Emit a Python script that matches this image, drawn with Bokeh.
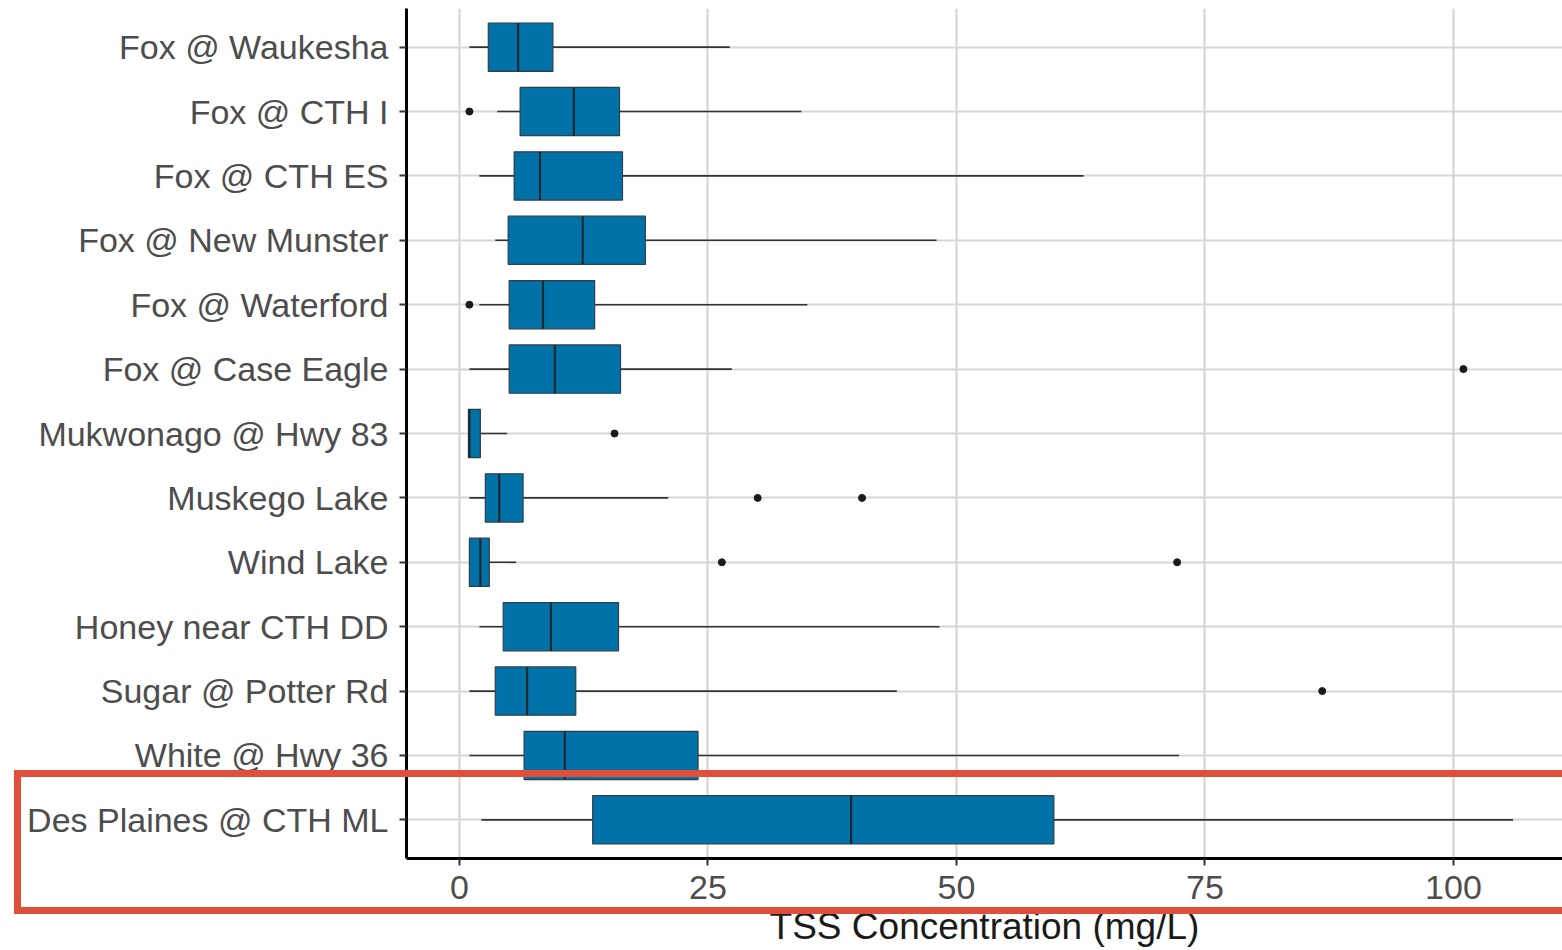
from bokeh.plotting import figure
from bokeh.models import Range1d, FactorRange, FixedTicker, Div
from bokeh.layouts import column
from bokeh.embed import file_html
from bokeh.resources import INLINE

# ---- data ----
sites = ["Fox @ Waukesha", "Fox @ CTH I", "Fox @ CTH ES", "Fox @ New Munster",
         "Fox @ Waterford", "Fox @ Case Eagle", "Mukwonago @ Hwy 83", "Muskego Lake",
         "Wind Lake", "Honey near CTH DD", "Sugar @ Potter Rd", "White @ Hwy 36",
         "Des Plaines @ CTH ML"]
lower_whisker = [1.0, 3.8, 2.0, 3.6, 2.0, 1.0, 0.9, 1.0, 1.0, 2.0, 1.0, 1.0, 2.2]
q1 = [2.9, 6.1, 5.5, 4.9, 5.0, 5.0, 0.9, 2.6, 1.0, 4.4, 3.6, 6.5, 13.4]
median = [5.9, 11.5, 8.1, 12.4, 8.4, 9.6, 1.0, 4.0, 2.1, 9.2, 6.8, 10.6, 39.4]
q3 = [9.4, 16.1, 16.4, 18.7, 13.6, 16.2, 2.1, 6.4, 3.0, 16.0, 11.7, 24.0, 59.8]
upper_whisker = [27.2, 34.4, 62.8, 48.0, 35.0, 27.4, 4.8, 21.0, 5.7, 48.3, 44.0, 72.4, 106.0]
outlier_sites = ["Fox @ CTH I", "Fox @ Waterford", "Fox @ Case Eagle", "Mukwonago @ Hwy 83",
                 "Muskego Lake", "Muskego Lake", "Wind Lake", "Wind Lake", "Sugar @ Potter Rd"]
outlier_values = [1.0, 1.0, 101.0, 15.6, 30.0, 40.5, 26.4, 72.2, 86.8]
x_ticks = [0, 25, 50, 75, 100]
x_title = "TSS Concentration (mg/L)"

FONT = "Liberation Sans"
BOX_FILL = "#0072A8"

p = figure(width=1562, height=950,
           x_range=Range1d(-5.33, 110.97),
           y_range=FactorRange(factors=list(reversed(sites)), range_padding=0.1,
                               range_padding_units="absolute"),
           output_backend="svg", toolbar_location=None,
           min_border_left=406, min_border_right=0, min_border_top=8,
           min_border_bottom=92)
p.outline_line_color = None
p.background_fill_color = "white"
p.border_fill_color = "white"

# grid
for g in (p.xgrid, p.ygrid):
    g.grid_line_color = "#D6D6D6"
    g.grid_line_width = 2.2
p.xaxis.ticker = FixedTicker(ticks=x_ticks)

# axes
for ax in (p.xaxis, p.yaxis):
    ax.axis_line_color = "black"
    ax.axis_line_width = 3
    ax.major_tick_line_color = "#333333"
    ax.major_tick_line_width = 2
    ax.major_tick_out = 7
    ax.major_tick_in = 0
    ax.minor_tick_line_color = None
    ax.major_label_text_font = FONT
    ax.major_label_text_font_size = "34px"
    ax.major_label_text_color = "#4D4D4D"
p.yaxis.major_label_standoff = 11
p.xaxis.major_label_standoff = 10
p.xaxis.axis_label = x_title
p.xaxis.axis_label_text_font = FONT
p.xaxis.axis_label_text_font_size = "37px"
p.xaxis.axis_label_text_font_style = "normal"
p.xaxis.axis_label_text_color = "#1A1A1A"
p.xaxis.axis_label_standoff = 4

# whiskers
p.segment(x0=lower_whisker, y0=sites, x1=q1, y1=sites, line_color="#333333", line_width=1.6)
p.segment(x0=q3, y0=sites, x1=upper_whisker, y1=sites, line_color="#333333", line_width=1.6)

# boxes
p.hbar(y=sites, left=q1, right=q3, height=0.75, fill_color=BOX_FILL,
       line_color="#2F3F48", line_width=1.2)

# medians
p.rect(x=median, y=sites, width=2.2, width_units="screen", height=0.75,
       fill_color="#1E2A30", line_color=None)

# outliers
p.scatter(x=outlier_values, y=outlier_sites, size=7, fill_color="#1A1A1A",
          line_color="#1A1A1A")

# red highlight rectangle (overlay drawn on top of the chart)
highlight = Div(text="", width=1553, height=144,
                styles={"position": "absolute", "left": "9px", "top": "765px",
                        "width": "1553px", "height": "144px",
                        "box-sizing": "border-box",
                        "border": "7px solid #DF4F3C", "border-right": "none",
                        "pointer-events": "none", "z-index": "10"})

layout = column(p, highlight)
open("out.html", "w").write(file_html(layout, INLINE))
